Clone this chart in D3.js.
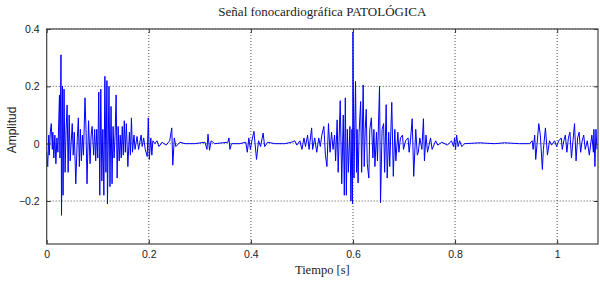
<!DOCTYPE html>
<html>
<head>
<meta charset="utf-8">
<script src="https://cdn.jsdelivr.net/npm/d3@7"></script>
<style>
  body { margin: 0; background: white; }
  svg { display: block; }
</style>
</head>
<body>
<div class="canvas"></div>
<script>
var width = 600;
var height = 281;

// signal: time [s] and amplitude
var tiempo = [
  0.000, 0.002, 0.004, 0.005, 0.007, 0.009, 0.011, 0.012, 0.014, 0.016, 0.018, 0.020, 0.022, 0.025, 0.026,
  0.028, 0.029, 0.031, 0.032, 0.034, 0.036, 0.038, 0.040, 0.042, 0.044, 0.046, 0.050, 0.052, 0.054, 0.057,
  0.060, 0.062, 0.064, 0.066, 0.068, 0.070, 0.072, 0.075, 0.077, 0.079, 0.082, 0.085, 0.087, 0.089, 0.092,
  0.094, 0.096, 0.098, 0.100, 0.102, 0.104, 0.106, 0.108, 0.110, 0.112, 0.114, 0.116, 0.118, 0.119, 0.122,
  0.124, 0.126, 0.128, 0.130, 0.132, 0.134, 0.136, 0.138, 0.140, 0.142, 0.144, 0.146, 0.148, 0.150, 0.152,
  0.154, 0.156, 0.159, 0.162, 0.164, 0.166, 0.168, 0.171, 0.173, 0.177, 0.180, 0.185, 0.187, 0.190, 0.193,
  0.197, 0.199, 0.201, 0.204, 0.206, 0.208, 0.212, 0.216, 0.220, 0.226, 0.234, 0.241, 0.245, 0.247, 0.250,
  0.253, 0.261, 0.271, 0.290, 0.310, 0.314, 0.316, 0.319, 0.322, 0.329, 0.355, 0.357, 0.359, 0.362, 0.378,
  0.390, 0.393, 0.396, 0.399, 0.402, 0.406, 0.411, 0.415, 0.419, 0.424, 0.427, 0.433, 0.447, 0.466, 0.480,
  0.486, 0.490, 0.496, 0.500, 0.504, 0.507, 0.511, 0.514, 0.519, 0.521, 0.525, 0.529, 0.533, 0.536, 0.539,
  0.543, 0.546, 0.549, 0.552, 0.555, 0.558, 0.561, 0.564, 0.566, 0.569, 0.571, 0.575, 0.578, 0.581, 0.583,
  0.585, 0.587, 0.589, 0.591, 0.594, 0.596, 0.598, 0.599, 0.600, 0.602, 0.605, 0.607, 0.608, 0.610, 0.612,
  0.615, 0.617, 0.620, 0.622, 0.624, 0.626, 0.628, 0.631, 0.633, 0.636, 0.639, 0.641, 0.643, 0.646, 0.648,
  0.652, 0.654, 0.657, 0.660, 0.662, 0.665, 0.667, 0.670, 0.672, 0.676, 0.679, 0.682, 0.684, 0.688, 0.690,
  0.693, 0.697, 0.699, 0.703, 0.708, 0.710, 0.713, 0.716, 0.719, 0.723, 0.726, 0.728, 0.731, 0.735, 0.738,
  0.740, 0.743, 0.746, 0.752, 0.755, 0.762, 0.766, 0.774, 0.785, 0.793, 0.797, 0.799, 0.801, 0.803, 0.806,
  0.809, 0.813, 0.819, 0.848, 0.877, 0.897, 0.926, 0.946, 0.951, 0.953, 0.956, 0.958, 0.964, 0.967, 0.971,
  0.973, 0.977, 0.981, 0.985, 0.989, 0.995, 0.999, 1.003, 1.008, 1.010, 1.013, 1.016, 1.019, 1.022, 1.025,
  1.028, 1.031, 1.034, 1.037, 1.040, 1.043, 1.046, 1.049, 1.052, 1.055, 1.059, 1.063, 1.068, 1.071, 1.072,
  1.074, 1.076, 1.078
];

var amplitud = [
  -0.03, -0.08, 0.03, -0.04, 0.04, 0.07, -0.02, 0.04, -0.05, 0.03, -0.07, 0.02, -0.03, 0.17, -0.05,
  0.31, -0.25, 0.20, -0.18, 0.19, -0.10, 0.05, 0.135, -0.10, 0.10, -0.06, 0.07, -0.04, 0.04, -0.14,
  0.02, 0.09, -0.08, 0.05, -0.06, 0.03, -0.04, 0.16, 0.05, -0.14, 0.08, -0.07, 0.03, 0.06, -0.04,
  0.05, -0.06, 0.05, -0.05, 0.18, -0.18, 0.19, -0.13, 0.05, -0.18, 0.235, -0.10, 0.22, -0.21, 0.20,
  -0.15, 0.13, -0.14, 0.06, -0.05, 0.03, 0.17, -0.12, 0.06, -0.06, 0.03, -0.05, 0.06, -0.04, 0.08,
  -0.03, 0.07, -0.08, 0.04, -0.04, 0.09, -0.03, 0.03, -0.02, 0.025, -0.02, 0.03, -0.01, 0.02, -0.02,
  -0.045, 0.09, -0.055, 0.02, -0.04, 0.01, 0.00, 0.01, -0.01, 0.005, -0.005, 0.01, 0.055, -0.075, 0.02,
  -0.01, 0.005, 0.00, 0.00, 0.005, -0.02, 0.033, -0.023, 0.01, 0.00, 0.005, 0.02, -0.02, 0.00, 0.00,
  0.005, -0.03, 0.02, -0.02, 0.01, 0.043, -0.055, 0.01, -0.01, 0.037, -0.01, 0.005, 0.00, 0.00, 0.005,
  0.01, -0.005, 0.01, -0.02, 0.02, -0.01, 0.03, -0.02, 0.055, -0.02, 0.02, -0.03, 0.02, -0.01, 0.03,
  0.06, -0.04, -0.08, 0.07, -0.03, 0.04, -0.02, 0.03, -0.06, 0.083, -0.10, 0.15, -0.14, 0.10, -0.18,
  0.16, -0.18, 0.05, -0.10, 0.06, -0.20, 0.05, -0.21, 0.39, -0.12, 0.217, -0.10, 0.05, -0.137, 0.04,
  0.147, -0.10, 0.205, -0.08, 0.05, 0.12, -0.07, -0.12, 0.05, 0.09, -0.05, 0.05, -0.08, 0.04, -0.06,
  0.20, -0.206, 0.05, 0.07, -0.10, 0.136, -0.12, 0.04, -0.08, 0.144, -0.114, 0.05, -0.06, 0.04, -0.03,
  0.02, 0.03, -0.02, 0.01, 0.02, -0.03, 0.02, 0.087, -0.114, 0.05, -0.04, -0.03, 0.02, -0.02, 0.087,
  -0.06, 0.03, -0.03, 0.02, -0.02, 0.01, -0.005, 0.005, -0.005, 0.01, -0.01, 0.02, -0.02, 0.03, -0.01,
  0.01, -0.01, 0.00, 0.003, 0.00, 0.003, 0.00, 0.00, 0.01, -0.02, 0.03, -0.055, 0.07, 0.03, -0.09,
  -0.02, 0.055, -0.04, 0.01, -0.005, 0.01, -0.01, 0.01, 0.02, -0.02, 0.01, 0.03, -0.03, 0.02, 0.04,
  -0.05, 0.01, 0.07, -0.06, 0.02, 0.04, -0.03, 0.01, 0.03, -0.02, 0.01, -0.04, 0.03, -0.03, 0.05,
  -0.08, 0.05, -0.02
];

var xTicks = [0, 0.2, 0.4, 0.6, 0.8, 1];
var yTicks = [-0.2, 0, 0.2, 0.4];

var margin = { top: 29, right: 2, bottom: 37, left: 46.7 };
var iw = width - margin.left - margin.right;
var ih = height - margin.top - margin.bottom;

var svg = d3.select(".canvas").append("svg")
    .attr("width", width)
    .attr("height", height)
    .style("background", "white");

var g = svg.append("g").attr("transform", `translate(${margin.left},${margin.top})`);

var x = d3.scaleLinear().domain([0, 1.08]).range([0, iw]);
var y = d3.scaleLinear().domain([-0.35, 0.4]).range([ih, 0]);

// grid
g.selectAll("line.gx").data(xTicks.slice(1)).enter().append("line")
    .attr("class", "gx")
    .attr("x1", d => x(d)).attr("x2", d => x(d))
    .attr("y1", 0).attr("y2", ih)
    .attr("stroke", "#000").attr("stroke-opacity", 0.7)
    .attr("stroke-dasharray", "1,2");
g.selectAll("line.gy").data(yTicks).enter().append("line")
    .attr("class", "gy")
    .attr("x1", 0).attr("x2", iw)
    .attr("y1", d => y(d)).attr("y2", d => y(d))
    .attr("stroke", "#000").attr("stroke-opacity", 0.7)
    .attr("stroke-dasharray", "1,2");

var data = tiempo.map((t, i) => ({ t: t, v: amplitud[i] }));

var line = d3.line()
    .x(d => x(d.t))
    .y(d => y(d.v));

g.append("path")
    .datum(data)
    .attr("d", line)
    .attr("fill", "none")
    .attr("stroke", "#0000ff")
    .attr("stroke-width", 1);

// axes, matlab style (ticks inside)
g.append("g").attr("transform", `translate(0,${ih})`)
    .call(d3.axisBottom(x).tickValues(xTicks).tickSizeInner(-4).tickSizeOuter(0).tickPadding(7).tickFormat(d3.format("")));
g.append("g")
    .call(d3.axisLeft(y).tickValues(yTicks).tickSizeInner(-4).tickSizeOuter(0).tickPadding(7).tickFormat(d3.format("")));
g.append("g")
    .call(d3.axisTop(x).tickValues(xTicks).tickSizeInner(-4).tickSizeOuter(0).tickFormat(""));
g.append("g").attr("transform", `translate(${iw},0)`)
    .call(d3.axisRight(y).tickValues(yTicks).tickSizeInner(-4).tickSizeOuter(0).tickFormat(""));

g.selectAll(".domain").remove();
g.selectAll(".tick line").attr("stroke", "#333");
g.selectAll(".tick text")
    .attr("font-family", "Liberation Sans, Arial, sans-serif")
    .attr("font-size", 10.5)
    .attr("fill", "#222");

g.append("rect")
    .attr("width", iw).attr("height", ih)
    .attr("fill", "none")
    .attr("stroke", "#444")
    .attr("stroke-width", 1.2);

svg.append("text")
    .attr("x", margin.left + iw / 2).attr("y", 16)
    .attr("text-anchor", "middle")
    .attr("font-family", "Liberation Serif, Times New Roman, serif")
    .attr("font-size", 13)
    .attr("fill", "#222")
    .text("Señal fonocardiográfica PATOLÓGICA");

svg.append("text")
    .attr("x", margin.left + iw / 2).attr("y", 274)
    .attr("text-anchor", "middle")
    .attr("font-family", "Liberation Serif, Times New Roman, serif")
    .attr("font-size", 12.5)
    .attr("fill", "#222")
    .text("Tiempo [s]");

svg.append("text")
    .attr("transform", "translate(16,130) rotate(-90)")
    .attr("text-anchor", "middle")
    .attr("font-family", "Liberation Sans, Arial, sans-serif")
    .attr("font-size", 12)
    .attr("fill", "#222")
    .text("Amplitud");
</script>
</body>
</html>
